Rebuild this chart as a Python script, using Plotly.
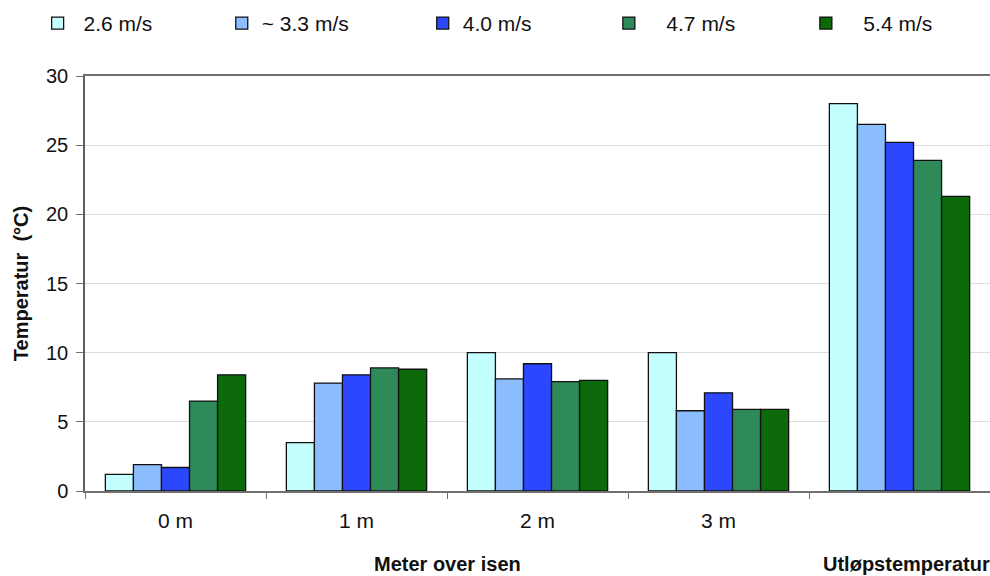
import plotly.graph_objects as go

# Measurement positions (last group is the outlet temperature, labelled separately)
categories = ["0 m", "1 m", "2 m", "3 m", " "]

# Air speeds and legend names
series_names = ["\u00a02.6 m/s", "~ 3.3 m/s", "4.0 m/s", "\u00a0\u00a0\u00a04.7 m/s", "\u00a0\u00a0\u00a05.4 m/s"]

# Temperatures (°C) per air speed
temp_26 = [1.2, 3.5, 10.0, 10.0, 28.0]
temp_33 = [1.9, 7.8, 8.1, 5.8, 26.5]
temp_40 = [1.7, 8.4, 9.2, 7.1, 25.2]
temp_47 = [6.5, 8.9, 7.9, 5.9, 23.9]
temp_54 = [8.4, 8.8, 8.0, 5.9, 21.3]

colors = ["#C4FFFF", "#8CBEFF", "#2B48FF", "#2E8A58", "#0C6A0A"]
series = [temp_26, temp_33, temp_40, temp_47, temp_54]

# Horizontal anchor (fraction of page width) of each legend entry
legend_x = [0.038, 0.224, 0.427, 0.615, 0.814]

font_family = "Liberation Sans, Arial, sans-serif"

fig = go.Figure()
legend_layout = {}
for i, (name, vals, col, lx) in enumerate(zip(series_names, series, colors, legend_x)):
    key = "legend" if i == 0 else f"legend{i + 1}"
    fig.add_trace(go.Bar(
        x=categories, y=vals, name=name, legend=key,
        marker=dict(color=col, line=dict(color="#111111", width=1.3)),
    ))
    legend_layout[key] = dict(
        orientation="h", xref="container", yref="container",
        x=lx, y=0.995, xanchor="left", yanchor="top",
        itemwidth=30,
        font=dict(size=21, family=font_family, color="#111111"),
        bgcolor="rgba(0,0,0,0)",
    )

fig.update_layout(
    width=990, height=576,
    margin=dict(l=85, r=0, t=76, b=85),
    paper_bgcolor="white", plot_bgcolor="white",
    barmode="group", bargap=0.225, bargroupgap=0,
    font=dict(family=font_family, color="#111111"),
    showlegend=True,
    xaxis=dict(
        type="category", tickson="boundaries",
        showline=True, linecolor="#707070", linewidth=1.5,
        mirror=True,
        ticks="outside", ticklen=6, tickcolor="#707070",
        tickfont=dict(size=21), ticklabelstandoff=10,
        showgrid=False,
    ),
    yaxis=dict(
        range=[0, 30], tickvals=[0, 5, 10, 15, 20, 25, 30],
        showline=True, linecolor="#606060", linewidth=1.5,
        ticks="outside", ticklen=7, tickcolor="#707070",
        tickfont=dict(size=20), ticklabelstandoff=4,
        showgrid=True, gridcolor="#DCDCDC", gridwidth=1,
        title=dict(text="<b>Temperatur\u00a0\u00a0(°C)</b>", font=dict(size=20), standoff=12),
        zeroline=False,
    ),
    **legend_layout,
)

fig.add_annotation(
    text="<b>Meter over isen</b>", xref="paper", yref="paper",
    x=0.400, y=0, yshift=-73, xanchor="center", yanchor="middle",
    showarrow=False, font=dict(size=20),
)
fig.add_annotation(
    text="<b>Utløpstemperatur</b>", xref="paper", yref="paper",
    x=0.908, y=0, yshift=-73, xanchor="center", yanchor="middle",
    showarrow=False, font=dict(size=20),
)

fig.write_html("out.html")
